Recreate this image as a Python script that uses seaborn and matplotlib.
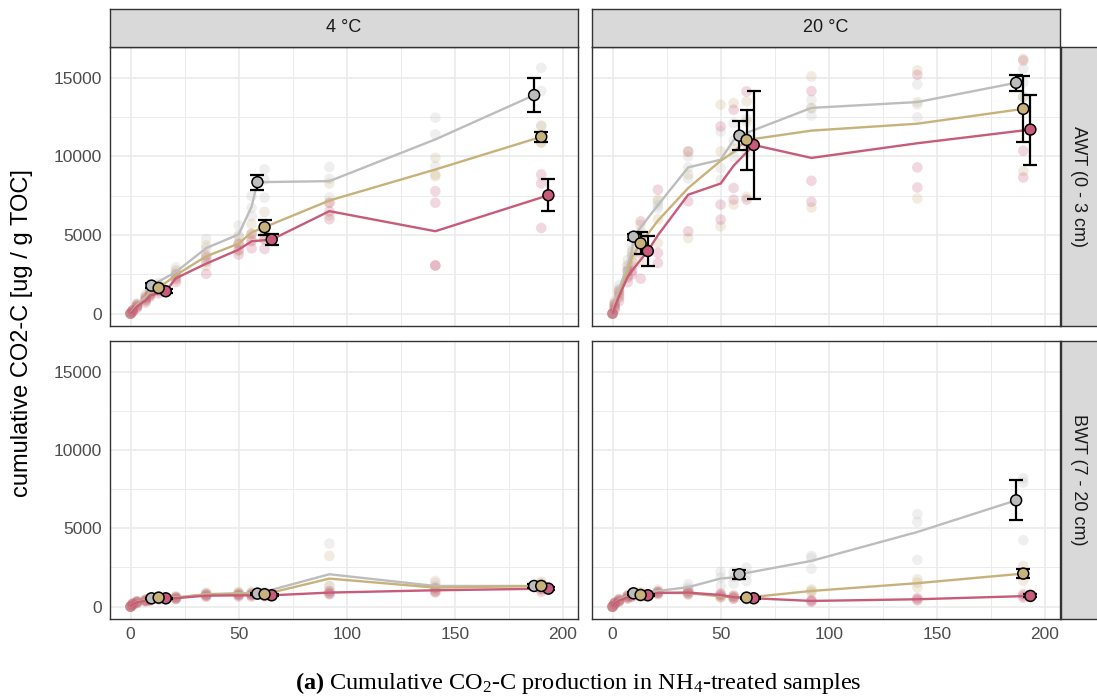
import numpy as np
import pandas as pd
import matplotlib
matplotlib.use("Agg")
import matplotlib.pyplot as plt
import seaborn as sns

# ---------------------------------------------------------------------------
# Incubation days and the days with summary markers (mean +/- SE)
DAYS = [0, 1, 3, 7, 9, 13, 21, 35, 50, 56, 62, 92, 141, 190]
SUMMARY_DAYS = [13, 62, 190]

TREATMENTS = ["grey", "tan", "rose"]
PALETTE = {"grey": "#BDBDBD", "tan": "#C8B27C", "rose": "#C75B7A"}
DODGE = {"grey": -3.3, "tan": 0.0, "rose": 3.3}

TEMPS = ["4 °C", "20 °C"]
LAYERS = ["AWT (0 - 3 cm)", "BWT (7 - 20 cm)"]

# Cumulative CO2-C [ug / g TOC], replicate values per day -------------------
# 4 °C, AWT
AWT4_GREY = [[0, 0, 0], [250, 200, 150], [650, 550, 450], [1200, 1050, 900],
             [1550, 1400, 1250], [1950, 1780, 1610], [2950, 2650, 2350],
             [4750, 4150, 3600], [5600, 5000, 4500], [7470, 6730, 6200],
             [9170, 8530, 7380], [9320, 8570, 7390], [12460, 11400, 9380],
             [15640, 14160, 11900]]
AWT4_TAN = [[0, 0, 0], [220, 180, 140], [600, 500, 400], [1100, 950, 800],
            [1400, 1300, 1200], [1780, 1630, 1480], [2750, 2450, 2150],
            [4330, 3550, 3050], [4900, 4450, 4000], [5700, 5100, 4700],
            [6470, 5300, 4720], [8280, 7050, 6250], [9910, 8740, 8850],
            [11970, 10870, 10900]]
AWT4_ROSE = [[0, 0, 0], [200, 150, 100], [550, 450, 350], [1000, 850, 700],
             [1250, 1150, 1050], [1560, 1420, 1280], [2500, 2250, 2000],
             [3700, 3300, 2530], [4400, 4050, 3750], [5050, 4600, 4150],
             [5300, 4720, 4110], [7050, 6500, 6000], [7790, 7050, 3060, 3060],
             [8850, 8280, 5450]]

# 20 °C, AWT
AWT20_GREY = [[0, 0, 0], [800, 650, 500], [1800, 1550, 1300], [3400, 3100, 2800],
              [4300, 4000, 3700], [5240, 4890, 4550], [7100, 6900, 6700],
              [10000, 9300, 8600], [11590, 9260, 8520], [12120, 11000, 10000],
              [12400, 11300, 10260], [13600, 13060, 12600], [14580, 13300, 12490],
              [15580, 14700, 13770]]
AWT20_TAN = [[0, 0, 0], [650, 500, 350], [1500, 1250, 1000], [3000, 2700, 2400],
             [3900, 3600, 3300], [5650, 4500, 3250], [7250, 6000, 4490],
             [10300, 8850, 4810], [13290, 10320, 5550], [13390, 10500, 6930],
             [13500, 12200, 7430], [15090, 13080, 6750], [15470, 13450, 7320],
             [16200, 13800, 9070]]
AWT20_ROSE = [[0, 0, 0], [600, 400, 250], [1400, 1100, 800], [2700, 2300, 2000],
              [3000, 2700, 2500], [5870, 3850, 2220], [7880, 3860, 3220],
              [10320, 7140, 5234], [11910, 6930, 5980], [12970, 7990, 7250],
              [14130, 10800, 7250], [14150, 8450, 7110], [15190, 9300, 8020],
              [16100, 10360, 8660]]

# 4 °C, BWT
BWT4_GREY = [[0, 0, 0], [200, 150, 100], [350, 300, 250], [450, 400, 350],
             [500, 450, 400], [600, 530, 460], [650, 580, 510], [900, 800, 700],
             [950, 850, 750], [950, 850, 750], [930, 830, 730], [4030, 1320, 850],
             [1500, 1300, 1160], [1500, 1300, 1160]]
BWT4_TAN = [[0, 0, 0], [200, 150, 100], [350, 300, 250], [450, 400, 350],
            [500, 450, 400], [640, 575, 510], [640, 570, 500], [850, 780, 700],
            [900, 820, 740], [900, 820, 740], [880, 790, 700], [3240, 1320, 810],
            [1640, 1100, 900], [1600, 1250, 1110]]
BWT4_ROSE = [[0, 0, 0], [200, 150, 100], [330, 280, 230], [430, 380, 330],
             [480, 430, 380], [600, 530, 460], [600, 540, 480], [780, 700, 620],
             [800, 720, 640], [800, 720, 640], [800, 720, 650], [1000, 900, 790],
             [1200, 1000, 930], [1400, 1100, 950]]

# 20 °C, BWT
BWT20_GREY = [[0, 0, 0], [250, 200, 150], [500, 430, 350], [750, 680, 600],
              [850, 780, 700], [950, 850, 750], [1100, 1000, 900],
              [1430, 1200, 1100], [2215, 1850, 1320], [2215, 1900, 1470],
              [2490, 2070, 1640], [3240, 3100, 2420], [5900, 5410, 2990],
              [8200, 7920, 4240]]
BWT20_TAN = [[0, 0, 0], [250, 200, 150], [450, 380, 320], [700, 620, 540],
             [800, 720, 650], [820, 745, 670], [950, 880, 820], [950, 850, 780],
             [750, 650, 560], [700, 600, 520], [650, 575, 500], [1100, 1000, 900],
             [1750, 1530, 1210], [2600, 2070, 1660]]
BWT20_ROSE = [[0, 0, 0], [250, 200, 150], [450, 380, 320], [680, 600, 520],
              [780, 700, 620], [800, 725, 650], [950, 880, 800], [1000, 900, 790],
              [850, 745, 640], [700, 600, 500], [600, 530, 470], [420, 360, 310],
              [550, 470, 390], [800, 680, 570]]

# Standard errors at the summary days (13, 62, 190)
ERR_AWT4 = {"grey": [170, 480, 1060], "tan": [130, 480, 330], "rose": [140, 340, 1030]}
ERR_AWT20 = {"grey": [200, 925, 520], "tan": [700, 1880, 2100], "rose": [980, 3430, 2230]}
ERR_BWT4 = {"grey": [40, 60, 150], "tan": [40, 60, 150], "rose": [40, 60, 120]}
ERR_BWT20 = {"grey": [100, 280, 1280], "tan": [60, 60, 300], "rose": [60, 60, 100]}

PANELS = {
    ("4 °C", "AWT (0 - 3 cm)"): ({"grey": AWT4_GREY, "tan": AWT4_TAN, "rose": AWT4_ROSE}, ERR_AWT4),
    ("20 °C", "AWT (0 - 3 cm)"): ({"grey": AWT20_GREY, "tan": AWT20_TAN, "rose": AWT20_ROSE}, ERR_AWT20),
    ("4 °C", "BWT (7 - 20 cm)"): ({"grey": BWT4_GREY, "tan": BWT4_TAN, "rose": BWT4_ROSE}, ERR_BWT4),
    ("20 °C", "BWT (7 - 20 cm)"): ({"grey": BWT20_GREY, "tan": BWT20_TAN, "rose": BWT20_ROSE}, ERR_BWT20),
}

# ---------------------------------------------------------------------------
sns.set_theme(style="white")
plt.rcParams["font.family"] = ["Liberation Sans", "DejaVu Sans"]
plt.rcParams["mathtext.fontset"] = "custom"
plt.rcParams["mathtext.rm"] = "Liberation Serif"
plt.rcParams["mathtext.it"] = "Liberation Serif:italic"
plt.rcParams["mathtext.bf"] = "Liberation Serif:bold"

W, H = 1097, 699
fig = plt.figure(figsize=(W / 100, H / 100), dpi=100)
fig.patch.set_facecolor("white")


def frac_box(x0, y0, x1, y1):
    return [x0 / W, 1 - y1 / H, (x1 - x0) / W, (y1 - y0) / H]


COLS = [(110, 578), (592, 1060)]
ROWS = [(47, 326), (341, 619)]
XLIM = (-9.5, 207)
YLIM = (-790, 16960)

GRID = "#EBEBEB"
DARK = "#333333"
TICKTXT = "#4D4D4D"
TICKSIZE = 12.5
STRIPSIZE = 13

for ci, temp in enumerate(TEMPS):
    for ri, layer in enumerate(LAYERS):
        series, errs = PANELS[(temp, layer)]
        rows = []
        for tr in TREATMENTS:
            for d, reps in zip(DAYS, series[tr]):
                for v in reps:
                    rows.append({"treatment": tr, "day": d, "co2": v})
        raw = pd.DataFrame(rows)
        means = (raw.groupby(["treatment", "day"], as_index=False)["co2"].mean())
        means["xline"] = [d + DODGE[t] if d in SUMMARY_DAYS else d
                          for t, d in zip(means["treatment"], means["day"])]
        means = means.sort_values(["treatment", "xline"])

        (x0, x1), (y0, y1) = COLS[ci], ROWS[ri]
        ax = fig.add_axes(frac_box(x0, y0, x1, y1))
        ax.set_facecolor("white")

        # raw replicates
        sns.scatterplot(data=raw, x="day", y="co2", hue="treatment",
                        hue_order=TREATMENTS, palette=PALETTE, alpha=0.24,
                        s=58, linewidth=0, legend=False, ax=ax, zorder=2)
        # mean trajectories
        sns.lineplot(data=means, x="xline", y="co2", hue="treatment",
                     hue_order=TREATMENTS, palette=PALETTE, estimator=None,
                     sort=False, lw=1.7, legend=False, ax=ax, zorder=3)
        # summary markers with error bars
        summ = means[means["day"].isin(SUMMARY_DAYS)].copy()
        summ["err"] = [errs[t][SUMMARY_DAYS.index(d)]
                       for t, d in zip(summ["treatment"], summ["day"])]
        ax.errorbar(summ["xline"], summ["co2"], yerr=summ["err"], fmt="none",
                    ecolor="black", elinewidth=1.6, capsize=5, capthick=1.6,
                    zorder=4)
        sns.scatterplot(data=summ, x="xline", y="co2", hue="treatment",
                        hue_order=TREATMENTS, palette=PALETTE, s=62,
                        edgecolor="black", linewidth=1.1, legend=False,
                        ax=ax, zorder=5)

        ax.set_xlim(*XLIM)
        ax.set_ylim(*YLIM)
        ax.set_xticks([0, 50, 100, 150, 200])
        ax.set_xticks([25, 75, 125, 175], minor=True)
        ax.set_yticks([0, 5000, 10000, 15000])
        ax.set_yticks([2500, 7500, 12500], minor=True)
        ax.grid(which="major", color=GRID, lw=1.2, zorder=0)
        ax.grid(which="minor", color=GRID, lw=0.7, zorder=0)
        ax.set_axisbelow(True)
        ax.set_xlabel("")
        ax.set_ylabel("")
        for sp in ax.spines.values():
            sp.set_color(DARK)
            sp.set_linewidth(1.0)
        ax.tick_params(which="minor", length=0)
        ax.tick_params(which="major", direction="out", length=3.5, width=0.9,
                       color=DARK, labelcolor=TICKTXT, labelsize=TICKSIZE, pad=2)
        if ri == 0:
            ax.tick_params(axis="x", length=0, labelbottom=False)
        if ci == 1:
            ax.tick_params(axis="y", length=0, labelleft=False)

        # column strips
        if ri == 0:
            sax = fig.add_axes(frac_box(x0, 9, x1, y0))
            sax.set_facecolor("#D9D9D9")
            sax.set_xticks([])
            sax.set_yticks([])
            for sp in sax.spines.values():
                sp.set_color(DARK)
                sp.set_linewidth(1.0)
            sax.text(0.5, 0.5, temp, ha="center", va="center", fontsize=STRIPSIZE,
                     color="#1A1A1A", transform=sax.transAxes)
        # row strips
        if ci == 1:
            sax = fig.add_axes(frac_box(1061, y0, 1100, y1))
            sax.set_facecolor("#D9D9D9")
            sax.set_xticks([])
            sax.set_yticks([])
            for sp in sax.spines.values():
                sp.set_color(DARK)
                sp.set_linewidth(1.0)
            sax.text(0.45, 0.5, layer, ha="center", va="center", fontsize=STRIPSIZE,
                     rotation=-90, color="#1A1A1A", transform=sax.transAxes)

fig.text(22 / W, 1 - 333 / H, "cumulative CO2-C [ug / g TOC]", rotation=90,
         ha="center", va="center", fontsize=17, color="black")
fig.text(578 / W, 1 - 683 / H,
         r"$\mathbf{(a)}$ Cumulative CO$_2$-C production in NH$_4$-treated samples",
         ha="center", va="center", fontsize=17.5, family="Liberation Serif",
         color="black")

fig.savefig("out.png", dpi=100, facecolor="white")
